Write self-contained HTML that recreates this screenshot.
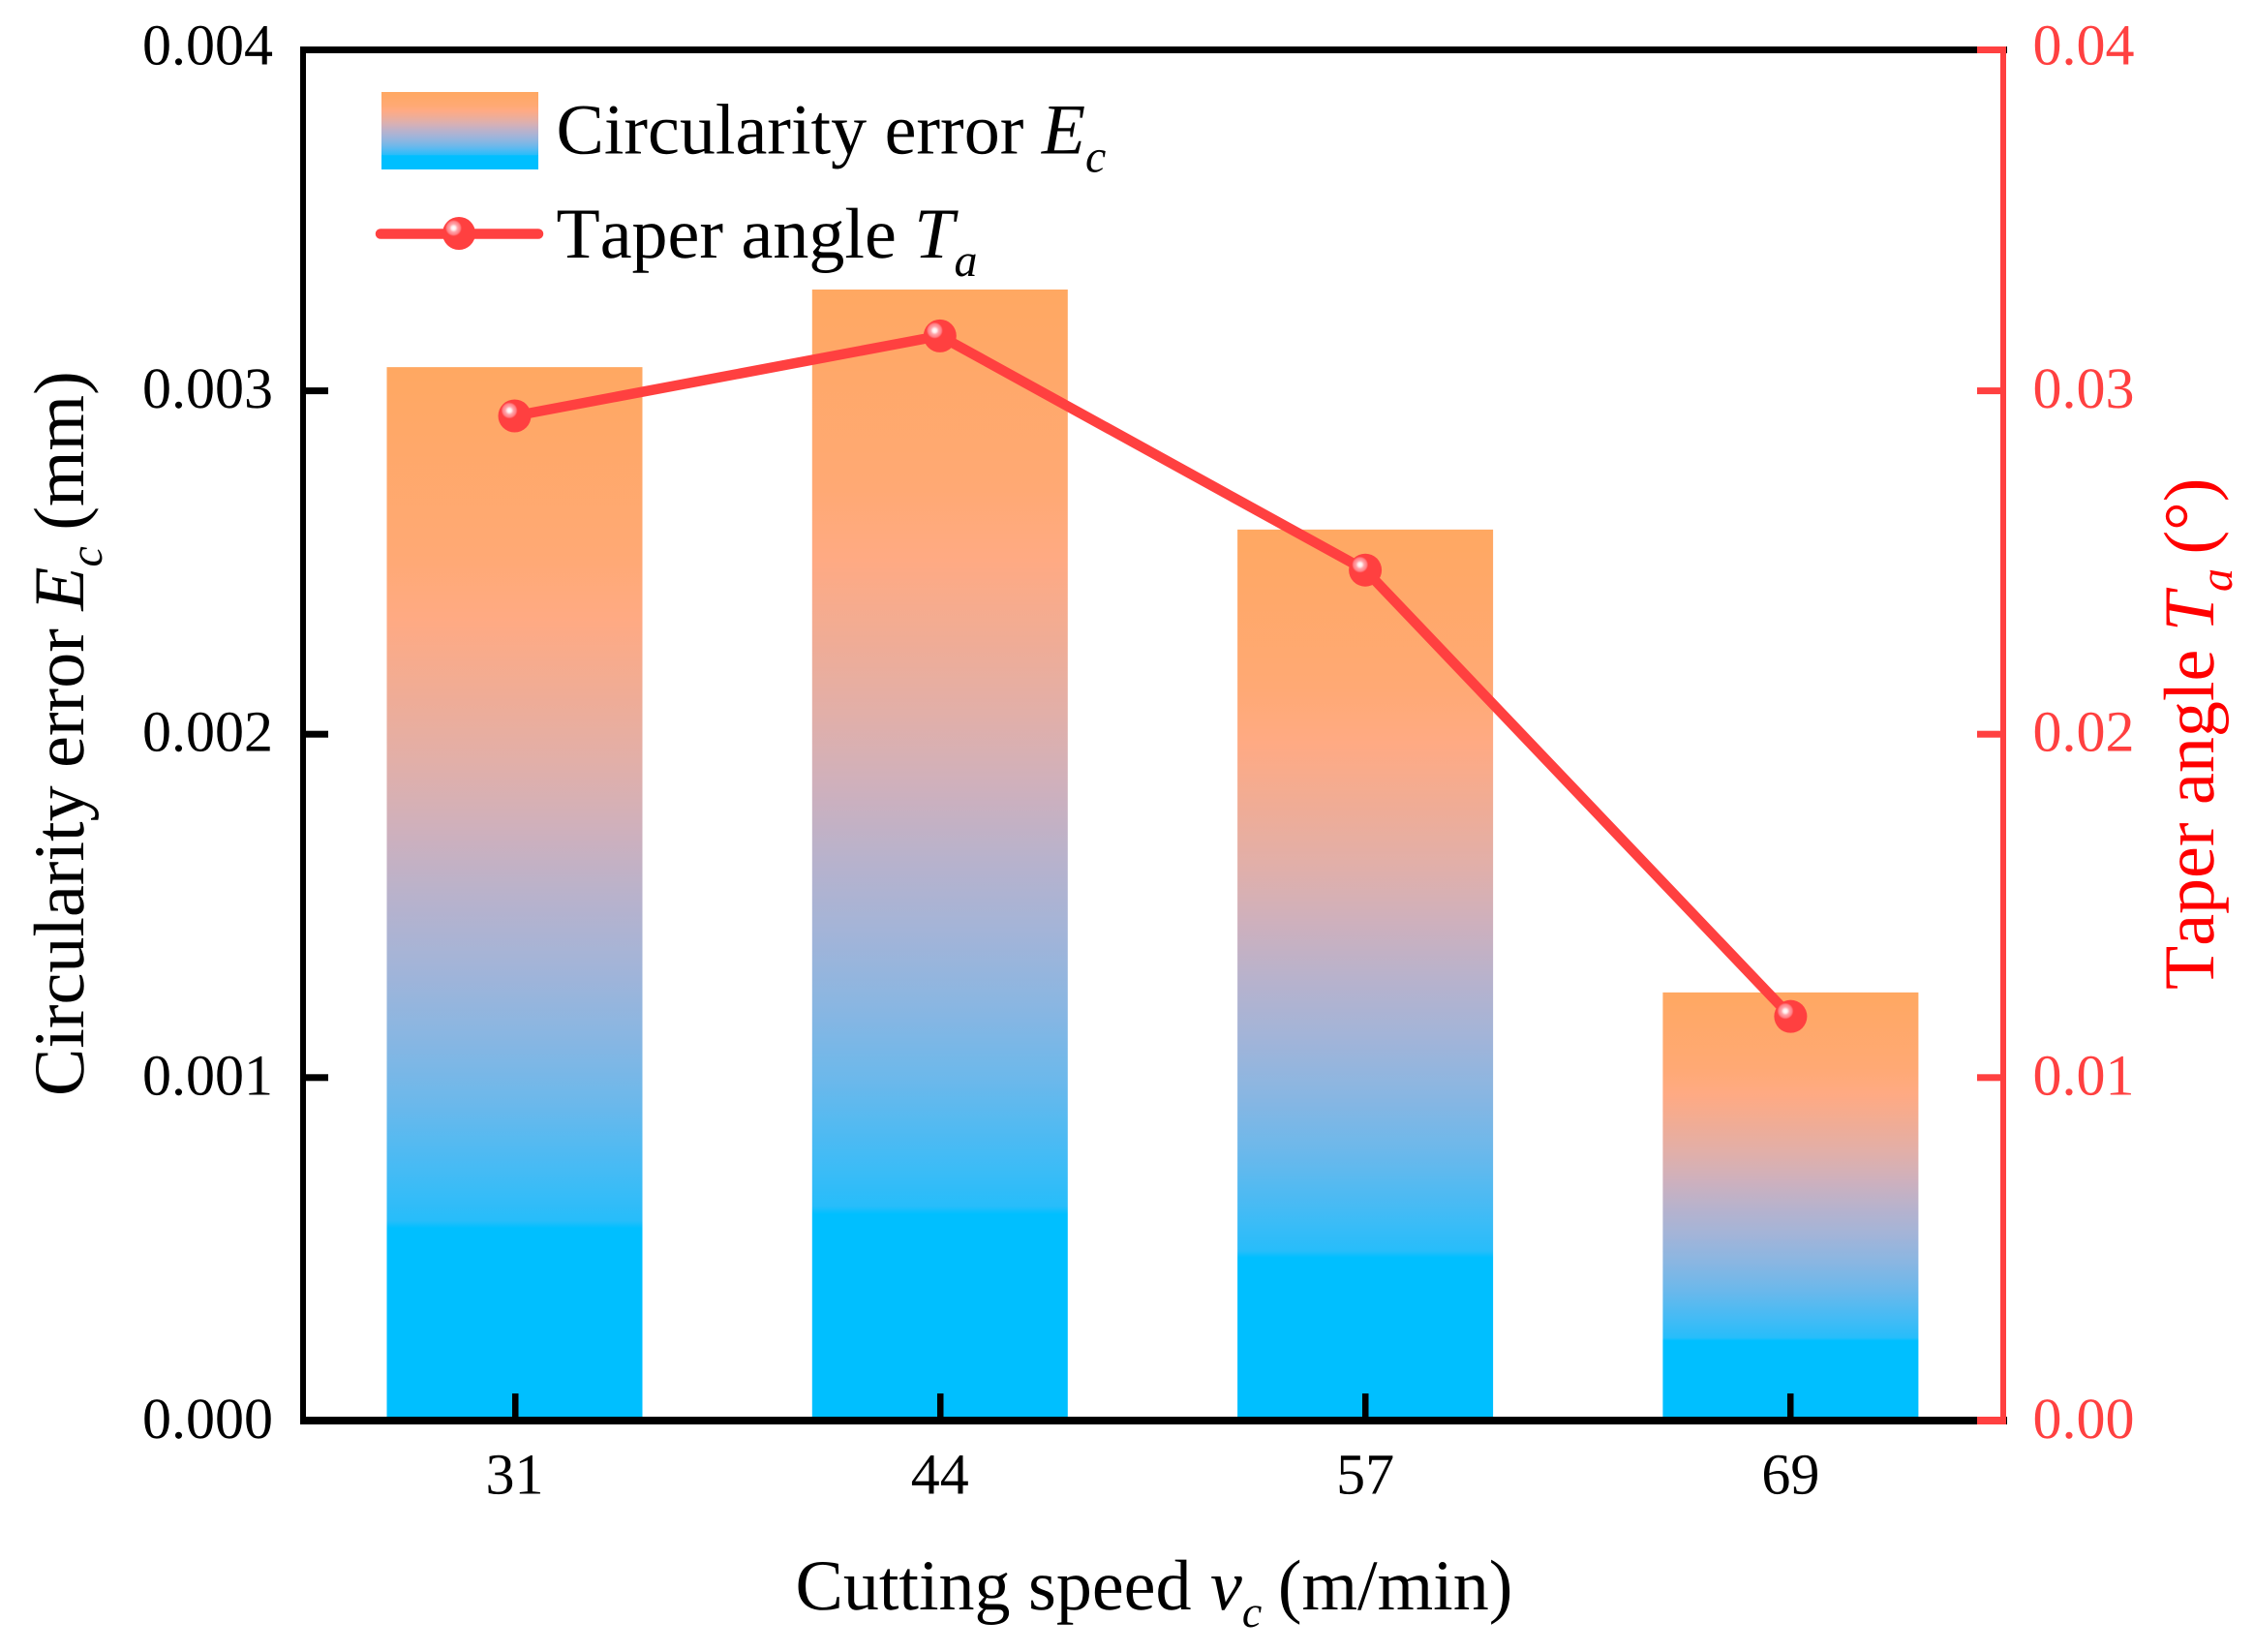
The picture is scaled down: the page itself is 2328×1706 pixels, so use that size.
<!DOCTYPE html>
<html lang="en">
<head>
<meta charset="utf-8">
<title>Circularity error and taper angle vs cutting speed</title>
<style>
html,body{margin:0;padding:0;background:#fff;}
svg{display:block;}
text{font-family:"Liberation Serif","Times New Roman",serif;font-kerning:none;text-rendering:geometricPrecision;}
.i{font-style:italic;}
</style>
</head>
<body>
<svg id="chart" xmlns="http://www.w3.org/2000/svg" width="2328" height="1706" viewBox="0 0 2328 1706">
  <defs>
    <linearGradient id="barGrad" x1="0" y1="0" x2="0" y2="1">
      <stop offset="0" stop-color="#FFA862"/>
      <stop offset="0.178" stop-color="#FFA974"/>
      <stop offset="0.24" stop-color="#FFAA83"/>
      <stop offset="0.31" stop-color="#F0AC95"/>
      <stop offset="0.375" stop-color="#E2AFA8"/>
      <stop offset="0.44" stop-color="#CFB0BC"/>
      <stop offset="0.505" stop-color="#B8B2CC"/>
      <stop offset="0.57" stop-color="#A3B4D8"/>
      <stop offset="0.637" stop-color="#89B6E2"/>
      <stop offset="0.70" stop-color="#6CB8EB"/>
      <stop offset="0.767" stop-color="#44BBF5"/>
      <stop offset="0.813" stop-color="#27BDFA"/>
      <stop offset="0.82" stop-color="#00BFFF"/>
      <stop offset="1" stop-color="#00BFFF"/>
    </linearGradient>
    <radialGradient id="markerGlow">
      <stop offset="0" stop-color="#ffffff"/>
      <stop offset="0.25" stop-color="#ffecec"/>
      <stop offset="0.5" stop-color="#ffa3a8"/>
      <stop offset="0.8" stop-color="#ff8086"/>
      <stop offset="1" stop-color="#ff4040"/>
    </radialGradient>
  </defs>

  <rect x="0" y="0" width="2328" height="1706" fill="#ffffff"/>
  <g id="bars"></g>

  <g id="axes">
    <rect x="310" y="48" width="6" height="1423" fill="#000"/>
    <rect x="310" y="48" width="1763" height="7" fill="#000"/>
    <rect x="310" y="1463" width="1763" height="8" fill="#000"/>
    <rect x="2066" y="48" width="6" height="1423" fill="#FF4040"/>
    <rect x="2042" y="48" width="30" height="7" fill="#FF4040"/>
    <rect x="2042" y="1463" width="30" height="8" fill="#FF4040"/>
  </g>
  <g id="ticks"></g>
  <g id="series"></g>

  <g>
    <rect x="394" y="95" width="162" height="80" fill="url(#barGrad)"/>
    <text x="574.5" y="158.5" font-size="74" fill="#000">Circularity error <tspan class="i">E</tspan><tspan class="i" font-size="48" dy="19">c</tspan></text>
    <line x1="393" y1="241.5" x2="556" y2="241.5" stroke="#FF4040" stroke-width="10.5" stroke-linecap="round"/>
    <circle cx="474" cy="241" r="17" fill="#FF4040"/>
    <circle cx="468.5" cy="235.5" r="8.5" fill="url(#markerGlow)"/>
    <text x="574.5" y="266" font-size="74" fill="#000">Taper angle <tspan class="i">T</tspan><tspan class="i" font-size="48" dy="19">a</tspan></text>
  </g>

  <text x="821.5" y="1662" font-size="74" fill="#000">Cutting speed <tspan class="i" dx="1">v</tspan><tspan class="i" font-size="46" dy="18">c</tspan><tspan dy="-18" dx="-2"> (m/min)</tspan></text>
  <text transform="translate(86 1132) rotate(-90)" x="0" y="0" font-size="74" fill="#000">Circularity error <tspan class="i">E</tspan><tspan class="i" font-size="48" dy="19">c</tspan><tspan dy="-19" dx="-2"> (mm)</tspan></text>
  <text transform="translate(2286 1022) rotate(-90)" x="0" y="0" font-size="74" fill="#FF0000">Taper angle <tspan class="i">T</tspan><tspan class="i" font-size="48" dy="19">a</tspan><tspan dy="-19" dx="-4"> (°)</tspan></text>
</svg>

<script>
const categories = ["31", "44", "57", "69"];
const circularityError = [0.003069, 0.003295, 0.002596, 0.001248];
const taperAngle = [0.02927, 0.0316, 0.02478, 0.01178];
const leftTickValues = [0, 0.001, 0.002, 0.003, 0.004];
const leftTickLabels = ["0.000", "0.001", "0.002", "0.003", "0.004"];
const rightTickValues = [0, 0.01, 0.02, 0.03, 0.04];
const rightTickLabels = ["0.00", "0.01", "0.02", "0.03", "0.04"];

const SVG_NS = "http://www.w3.org/2000/svg";
const barsLayer = document.getElementById("bars");
const ticksLayer = document.getElementById("ticks");
const seriesLayer = document.getElementById("series");

const plotBaseY = 1467.4;
const leftPxPerUnit = 354600;
const rightPxPerUnit = 35460;
const firstCenterX = 531.5;
const centerStep = 439.3;
const barWidth = 264;

function xPos(i) { return firstCenterX + i * centerStep; }
function yLeft(v) { return plotBaseY - v * leftPxPerUnit; }
function yRight(v) { return plotBaseY - v * rightPxPerUnit; }

function svgEl(tag) { return document.createElementNS(SVG_NS, tag); }
function setGeom(el, props) {
  for (const k in props) { el.setAttribute(k, props[k]); }
  return el;
}

categories.forEach(function (cat, i) {
  const top = yLeft(circularityError[i]);
  const bar = setGeom(svgEl("rect"), { x: xPos(i) - barWidth / 2, y: top, width: barWidth, height: 1463.5 - top, fill: "url(#barGrad)" });
  
  
  barsLayer.appendChild(bar);

  const tick = setGeom(svgEl("rect"), { x: Math.round(xPos(i)) - 3, y: 1439, width: 6.5, height: 24, fill: "#000" });
  
  
  ticksLayer.appendChild(tick);

  const label = setGeom(svgEl("text"), { x: xPos(i), y: 1542.5, "text-anchor": "middle", "font-size": 60, fill: "#000" });
  label.textContent = cat;
  
  
  ticksLayer.appendChild(label);
});

leftTickValues.forEach(function (v, i) {
  const y = yLeft(v);
  if (i > 0 && i < leftTickValues.length - 1) {
    const tick = setGeom(svgEl("rect"), { x: 316, y: y - 3.5, width: 23, height: 7, fill: "#000" });
    
    
    ticksLayer.appendChild(tick);
  }
  const label = setGeom(svgEl("text"), { x: 282, y: y + 17.5, "text-anchor": "end", "font-size": 60, fill: "#000" });
  label.textContent = leftTickLabels[i];
  
  
  ticksLayer.appendChild(label);
});

rightTickValues.forEach(function (v, i) {
  const y = yRight(v);
  if (i > 0 && i < rightTickValues.length - 1) {
    const tick = setGeom(svgEl("rect"), { x: 2042, y: y - 3.5, width: 24, height: 7, fill: "#FF4040" });
    
    
    ticksLayer.appendChild(tick);
  }
  const label = setGeom(svgEl("text"), { x: 2099.5, y: y + 17.5, "font-size": 60, fill: "#FF4040" });
  label.textContent = rightTickLabels[i];
  
  
  ticksLayer.appendChild(label);
});

const linePoints = taperAngle.map(function (v, i) { return xPos(i) + "," + yRight(v); }).join(" ");
const taperLine = setGeom(svgEl("polyline"), { points: linePoints, fill: "none", stroke: "#FF4040", "stroke-width": 10.5, "stroke-linejoin": "round" });


seriesLayer.appendChild(taperLine);

taperAngle.forEach(function (v, i) {
  const cx = xPos(i);
  const cy = yRight(v);
  const marker = setGeom(svgEl("circle"), { cx: cx, cy: cy, r: 17, fill: "#FF4040" });
  
  
  seriesLayer.appendChild(marker);

  const glow = setGeom(svgEl("circle"), { cx: cx - 5.4, cy: cy - 5.6, r: 8.5, fill: "url(#markerGlow)" });
  
  
  seriesLayer.appendChild(glow);
});
</script>
</body>
</html>
